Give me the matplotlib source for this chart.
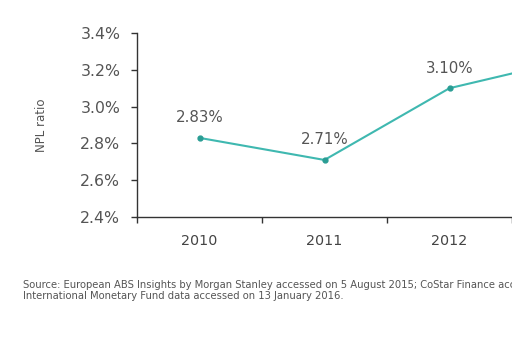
import matplotlib.pyplot as plt
from matplotlib.ticker import FixedLocator, FuncFormatter

years = ["2010", "2011", "2012", "2013"]
npl = [2.83, 2.71, 3.10, 3.26]
labels = ["2.83%", "2.71%", "3.10%"]   # 2013 lies outside the visible crop
yticks = [2.4, 2.6, 2.8, 3.0, 3.2, 3.4]

source1 = ("Source: European ABS Insights by Morgan Stanley accessed on 5 August 2015; "
           "CoStar Finance accessed")
source2 = "International Monetary Fund data accessed on 13 January 2016."

plt.rcParams['font.family'] = ['DejaVu Sans']
grey = "#555555"

fig = plt.figure(figsize=(5.12, 3.41), dpi=100)
fig.patch.set_facecolor("white")
ax = fig.add_axes([137/512, 124/341, 500/512, 184/341])

x = list(range(len(years)))
ax.plot(x, npl, color="#3fb8b0", lw=1.5, marker="o", ms=3.5,
        mfc="#2a9d94", mec="#2a9d94", zorder=3)
for xi, v, t in zip(x, npl, labels):
    ax.annotate(t, (xi, v), xytext=(0, 9), textcoords="offset points",
                ha="center", va="bottom", fontsize=10.8, color=grey)

ax.set_xlim(-0.5, len(years) - 0.5)
ax.set_ylim(2.4, 3.4)
ax.set_yticks(yticks)
ax.yaxis.set_major_formatter(FuncFormatter(lambda v, p: "%.1f%%" % v))

ax.xaxis.set_major_locator(FixedLocator([i - 0.5 for i in range(len(years) + 1)]))
ax.xaxis.set_major_formatter(FuncFormatter(lambda v, p: ""))
ax.xaxis.set_minor_locator(FixedLocator(x[:3]))
ax.set_xticklabels(years[:3], minor=True)

ax.tick_params(axis="x", which="major", direction="out", length=4, width=1, color="#333333")
ax.tick_params(axis="x", which="minor", length=0, pad=12, labelsize=10.3, labelcolor="#444444")
ax.tick_params(axis="y", direction="out", length=4, width=1, color="#333333",
               pad=8, labelsize=11.3, labelcolor=grey)

for s in ["top", "right"]:
    ax.spines[s].set_visible(False)
for s in ["left", "bottom"]:
    ax.spines[s].set_color("#333333")
    ax.spines[s].set_linewidth(1)

ax.set_ylabel("NPL ratio", fontsize=8.5, color=grey, labelpad=23)

fig.text(23/512, 1 - 285/341, source1, fontsize=7.2, color="#555555", va="center")
fig.text(23/512, 1 - 296/341, source2, fontsize=7.2, color="#555555", va="center")

fig.savefig("out.png", dpi=100)
